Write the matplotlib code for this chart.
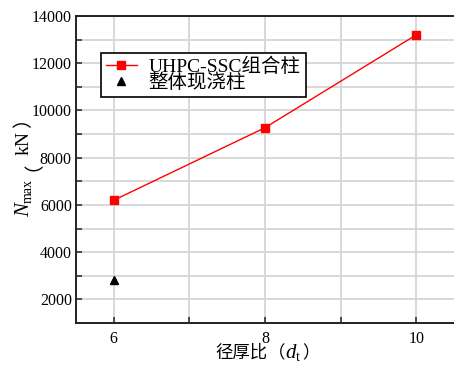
import matplotlib
matplotlib.use("Agg")
import matplotlib.pyplot as plt
from matplotlib.ticker import MultipleLocator
from matplotlib.font_manager import FontProperties

# data
ratios = [6, 8, 10]
uhpc_ssc = [6200, 9270, 13200]
cast_ratio = [6]
cast_in_place = [2830]
x_ticks = [6, 8, 10]
y_ticks = [2000, 4000, 6000, 8000, 10000, 12000, 14000]
series_names = ["UHPC-SSC组合柱", "整体现浇柱"]

FAMILIES = ["Liberation Serif", "Noto Sans CJK SC"]
plt.rcParams["font.family"] = FAMILIES

W, H = 454, 365
fig = plt.figure(figsize=(W / 100, H / 100), dpi=100)
ax = fig.add_axes([76 / W, 1 - 323 / H, 1 - 76 / W, (323 - 16) / H])

ax.plot(ratios, uhpc_ssc, color="#ff0000", lw=1.0, marker="s", ms=5.2,
        mfc="#ff0000", mec="#ff0000", label=series_names[0], zorder=3)
ax.plot(cast_ratio, cast_in_place, ls="none", marker="^", ms=6, color="black",
        label=series_names[1], zorder=3)

ax.set_xlim(5.5, 10.5)
ax.set_ylim(1000, 14000)
ax.set_xticks(x_ticks)
ax.set_yticks(y_ticks)
ax.xaxis.set_minor_locator(MultipleLocator(1))
ax.yaxis.set_minor_locator(MultipleLocator(1000))
ax.grid(True, which="both", color="#d6d6d6", lw=1.3, zorder=0)
ax.set_axisbelow(True)
ax.tick_params(which="both", direction="in", length=4, width=1.2, color="#333333",
               labelsize=11.5, top=False, right=False)
ax.tick_params(axis="x", pad=6)
ax.tick_params(axis="y", pad=3)
for s in ("left", "bottom", "top"):
    ax.spines[s].set_linewidth(1.4)
    ax.spines[s].set_color("#222222")
ax.spines["right"].set_visible(False)

leg = ax.legend(loc="upper left", bbox_to_anchor=((101 - 76) / 378, (323 - 53) / 307),
                fontsize=14, frameon=True, fancybox=False, edgecolor="black",
                framealpha=1, handlelength=1.6, handletextpad=0.6, labelspacing=-0.15,
                borderpad=0.25, borderaxespad=0)
leg.get_frame().set_linewidth(1.2)

# composite axis labels built from pieces (serif/CJK + italic + subscript)
fig.canvas.draw()
renderer = fig.canvas.get_renderer()

cjk_x = FontProperties(family=FAMILIES, size=12.5)
cjk_y = FontProperties(family=FAMILIES, size=14)
serif = FontProperties(family="Liberation Serif", size=14)
serif_it = FontProperties(family="Liberation Serif", style="italic", size=15)
serif_sub = FontProperties(family="Liberation Serif", size=10)


def place_pieces(pieces, x0, y0, vertical=False):
    """Lay out (text, font, baseline shift px, leading gap px) from a start point."""
    pos = 0.0
    for s, fp, shift, gap in pieces:
        t = fig.text(0, 0, s, fontproperties=fp, rotation=90 if vertical else 0,
                     ha="left", va="baseline", rotation_mode="anchor",
                     transform=None)
        bb = t.get_window_extent(renderer)
        length = bb.height if vertical else bb.width
        pos += gap
        if vertical:
            t.set_position((x0 - shift, y0 + pos))
        else:
            t.set_position((x0 + pos, y0 + shift))
        pos += length


# pixel coords, origin at bottom-left
place_pieces([("径厚比", cjk_x, 0, 0), ("（", cjk_x, 0, 1),
              ("d", serif_it, 0, 0), ("t", serif_sub, -3, 0), ("）", cjk_x, 0, 2)],
             x0=215, y0=H - 358)
place_pieces([("N", serif_it, 0, 0), ("max", serif_sub, -3, 0),
              ("（", cjk_y, 0, 8), ("kN", serif, 0, -3), ("）", cjk_y, 0, 3)],
             x0=29, y0=H - 217, vertical=True)

fig.savefig("out.png", dpi=100)
